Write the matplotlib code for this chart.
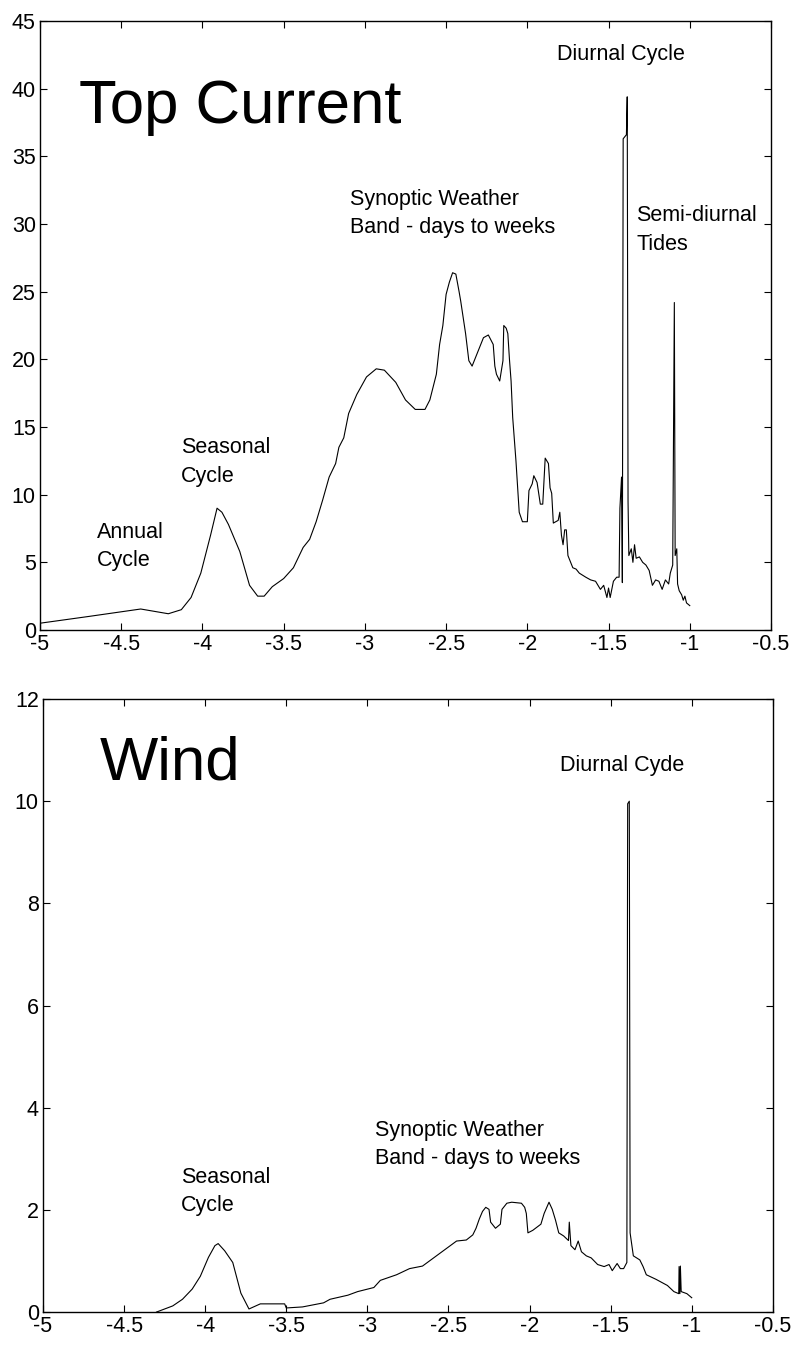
import matplotlib
matplotlib.use("Agg")
import matplotlib.pyplot as plt
import numpy as np

plt.rcParams['font.family'] = ['Liberation Sans', 'DejaVu Sans']
plt.rcParams['axes.unicode_minus'] = False

# log10 frequency vs spectral energy
current_x = [-5.00, -4.70, -4.38, -4.21, -4.13, -4.07, -4.01, -3.95, -3.91, -3.88,
             -3.84, -3.77, -3.71, -3.66, -3.62, -3.57, -3.50, -3.44, -3.38, -3.34,
             -3.30, -3.26, -3.22, -3.18, -3.16, -3.13, -3.10, -3.05, -2.99, -2.93,
             -2.88, -2.81, -2.75, -2.69, -2.63, -2.60, -2.56, -2.54, -2.52, -2.50,
             -2.48, -2.46, -2.44, -2.42, -2.41, -2.38, -2.36, -2.34, -2.32, -2.29,
             -2.27, -2.24, -2.21, -2.20, -2.19, -2.17, -2.15, -2.145, -2.13, -2.12,
             -2.11, -2.10, -2.09, -2.07, -2.05, -2.03, -2.00, -1.99, -1.97, -1.96,
             -1.94, -1.92, -1.905, -1.89, -1.87, -1.86, -1.85, -1.84, -1.81, -1.80,
             -1.79, -1.78, -1.77, -1.76, -1.75, -1.74, -1.72, -1.70, -1.68, -1.64,
             -1.61, -1.58, -1.55, -1.53, -1.51, -1.50, -1.49, -1.47, -1.45, -1.435,
             -1.43, -1.42, -1.415, -1.41, -1.39, -1.385, -1.38, -1.375, -1.36, -1.35,
             -1.34, -1.33, -1.31, -1.29, -1.27, -1.25, -1.23, -1.21, -1.19, -1.17,
             -1.15, -1.13, -1.12, -1.105, -1.095, -1.09, -1.08, -1.075, -1.065, -1.05,
             -1.04, -1.03, -1.02, -1.00]
current_y = [0.5, 1.0, 1.55, 1.2, 1.5, 2.4, 4.2, 7.0, 9.0, 8.7,
             7.8, 5.8, 3.3, 2.5, 2.5, 3.2, 3.8, 4.6, 6.1, 6.7,
             8.0, 9.6, 11.3, 12.3, 13.5, 14.2, 16.0, 17.4, 18.7, 19.3,
             19.2, 18.3, 17.0, 16.3, 16.3, 17.0, 18.9, 21.1, 22.5, 24.8,
             25.7, 26.4, 26.3, 25.0, 24.3, 21.9, 19.9, 19.5, 20.1, 21.0,
             21.6, 21.8, 21.1, 19.5, 18.9, 18.4, 19.9, 22.5, 22.3, 21.9,
             20.0, 18.4, 15.7, 12.5, 8.7, 8.0, 8.0, 10.3, 10.8, 11.4,
             10.9, 9.3, 9.3, 12.7, 12.3, 10.5, 10.1, 7.9, 8.1, 8.7,
             7.0, 6.3, 7.4, 7.4, 5.5, 5.2, 4.6, 4.5, 4.2, 3.9,
             3.7, 3.6, 3.0, 3.3, 2.4, 3.1, 2.4, 3.6, 3.9, 3.9,
             9.0, 11.3, 3.5, 36.3, 36.6, 39.4, 9.5, 5.5, 6.0, 5.0,
             6.3, 5.3, 5.4, 5.0, 4.8, 4.4, 3.3, 3.7, 3.6, 3.0,
             3.7, 3.4, 4.2, 4.8, 24.2, 5.5, 6.0, 3.4, 2.9, 2.6,
             2.2, 2.5, 2.0, 1.8]

wind_x = [-4.30, -4.20, -4.14, -4.08, -4.03, -3.98, -3.94, -3.92, -3.88, -3.83,
          -3.78, -3.73, -3.66, -3.51, -3.50, -3.40, -3.27, -3.23, -3.12, -3.06,
          -2.96, -2.92, -2.82, -2.74, -2.66, -2.60, -2.54, -2.45, -2.39, -2.35,
          -2.33, -2.31, -2.29, -2.27, -2.25, -2.24, -2.21, -2.18, -2.17, -2.14,
          -2.11, -2.05, -2.03, -2.02, -2.01, -1.98, -1.93, -1.91, -1.88, -1.86,
          -1.84, -1.82, -1.79, -1.76, -1.755, -1.745, -1.72, -1.70, -1.68, -1.65,
          -1.62, -1.58, -1.54, -1.51, -1.49, -1.46, -1.44, -1.42, -1.40, -1.395,
          -1.385, -1.38, -1.36, -1.32, -1.30, -1.28, -1.22, -1.15, -1.11, -1.08,
          -1.078, -1.073, -1.07, -1.065, -1.03, -1.00]
wind_y = [0.0, 0.12, 0.25, 0.45, 0.7, 1.07, 1.3, 1.34, 1.2, 0.97,
          0.37, 0.06, 0.16, 0.16, 0.08, 0.1, 0.18, 0.25, 0.33, 0.40,
          0.48, 0.62, 0.73, 0.85, 0.9, 1.04, 1.18, 1.39, 1.41, 1.51,
          1.64, 1.82, 1.97, 2.05, 2.01, 1.76, 1.64, 1.72, 2.01, 2.13,
          2.15, 2.13, 2.05, 1.93, 1.55, 1.6, 1.72, 1.93, 2.15, 2.01,
          1.8, 1.55, 1.49, 1.4, 1.76, 1.3, 1.22, 1.39, 1.18, 1.1,
          1.06, 0.93, 0.89, 0.93, 0.81, 0.95, 0.85, 0.85, 0.97, 9.95,
          10.0, 1.55, 1.1, 1.02, 0.89, 0.73, 0.64, 0.52, 0.4, 0.36,
          0.89, 0.36, 0.9, 0.4, 0.36, 0.28]

x_ticks = [-5, -4.5, -4, -3.5, -3, -2.5, -2, -1.5, -1, -0.5]
x_tick_labels = ['-5', '-4.5', '-4', '-3.5', '-3', '-2.5', '-2', '-1.5', '-1', '-0.5']
current_y_ticks = [0, 5, 10, 15, 20, 25, 30, 35, 40, 45]
wind_y_ticks = [0, 2, 4, 6, 8, 10, 12]

LABEL_SIZE = 15.5
TITLE_SIZE = 44.5


def style_axes(ax, yticks, ymax):
    ax.set_xlim(-5, -0.5)
    ax.set_ylim(0, ymax)
    ax.set_xticks(x_ticks)
    ax.set_xticklabels(x_tick_labels)
    ax.set_yticks(yticks)
    ax.set_yticklabels([str(v) for v in yticks])
    ax.tick_params(direction='in', top=True, right=True, length=5, width=0.8,
                   labelsize=LABEL_SIZE, pad=3)
    for sp in ax.spines.values():
        sp.set_linewidth(1.0)


fig = plt.figure(figsize=(7.95, 13.49), dpi=100)

# top panel: top current
ax1 = fig.add_axes([0.0503, 0.533, 0.9195, 0.4514])
ax1.plot(current_x, current_y, color='black', lw=0.8)
style_axes(ax1, current_y_ticks, 45)
ax1.text(-4.76, 37.5, 'Top Current', fontsize=TITLE_SIZE, va='baseline')
ax1.text(-4.65, 6.8, 'Annual', fontsize=LABEL_SIZE, va='baseline')
ax1.text(-4.65, 4.7, 'Cycle', fontsize=LABEL_SIZE, va='baseline')
ax1.text(-4.13, 13.1, 'Seasonal', fontsize=LABEL_SIZE, va='baseline')
ax1.text(-4.13, 10.9, 'Cycle', fontsize=LABEL_SIZE, va='baseline')
ax1.text(-3.09, 31.4, 'Synoptic Weather', fontsize=LABEL_SIZE, va='baseline')
ax1.text(-3.09, 29.3, 'Band - days to weeks', fontsize=LABEL_SIZE, va='baseline')
ax1.text(-1.817, 42.1, 'Diurnal Cycle', fontsize=LABEL_SIZE, va='baseline')
ax1.text(-1.33, 30.2, 'Semi-diurnal', fontsize=LABEL_SIZE, va='baseline')
ax1.text(-1.33, 28.1, 'Tides', fontsize=LABEL_SIZE, va='baseline')

# bottom panel: wind
ax2 = fig.add_axes([0.0541, 0.0274, 0.918, 0.4544])
ax2.plot(wind_x, wind_y, color='black', lw=0.8)
style_axes(ax2, wind_y_ticks, 12)
ax2.text(-4.65, 10.42, 'Wind', fontsize=TITLE_SIZE, va='baseline')
ax2.text(-1.81, 10.59, 'Diurnal Cyde', fontsize=LABEL_SIZE, va='baseline')
ax2.text(-2.95, 3.45, 'Synoptic Weather', fontsize=LABEL_SIZE, va='baseline')
ax2.text(-2.95, 2.9, 'Band - days to weeks', fontsize=LABEL_SIZE, va='baseline')
ax2.text(-4.15, 2.53, 'Seasonal', fontsize=LABEL_SIZE, va='baseline')
ax2.text(-4.15, 1.98, 'Cycle', fontsize=LABEL_SIZE, va='baseline')

fig.savefig('out.png', dpi=100)
